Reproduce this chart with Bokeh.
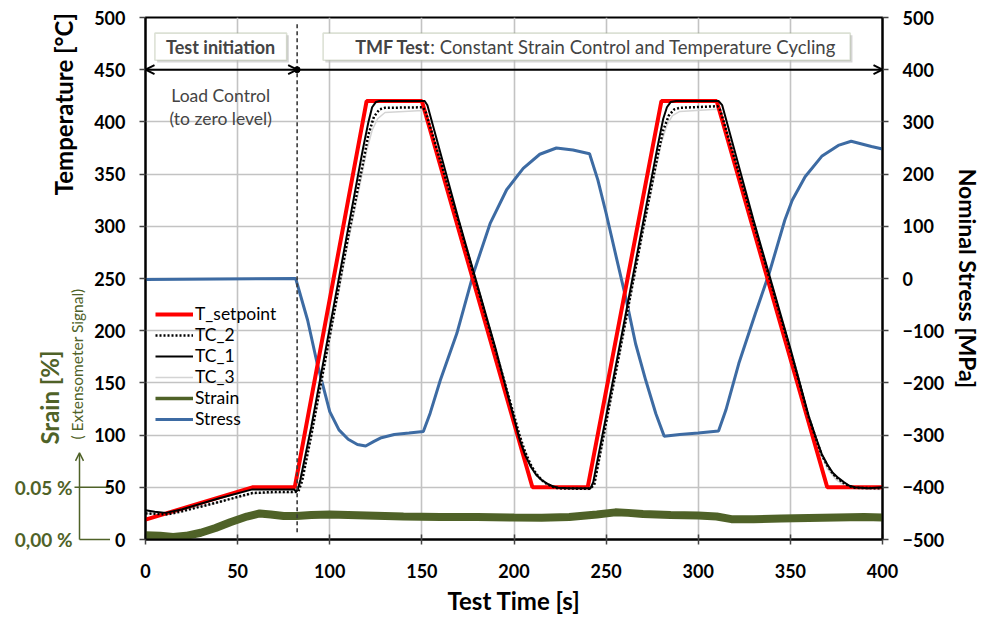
import math
from bokeh.plotting import figure
from bokeh.layouts import row
from bokeh.models import (Range1d, LinearAxis, FixedTicker, Legend, LegendItem,
                          Label, BoxAnnotation, Arrow, OpenHead, Plot)
from bokeh.core.properties import value
from bokeh.embed import file_html
from bokeh.resources import INLINE

# ---------------- data ----------------
sp_t = [0, 58, 81, 120, 150, 210, 240, 280, 310, 370, 400]
sp_T = [19, 50, 50, 420, 420, 50, 50, 420, 420, 50, 50]

tc1_t = [0, 5, 11, 20, 40, 58, 70, 80.5, 82, 83, 84, 90, 100, 110, 118, 121, 123, 125, 127,
         151.5, 153, 170, 190, 200, 203, 206, 209, 212, 215, 218, 221, 224, 230, 241.5,
         243, 250, 260, 270, 278, 281, 283, 285, 288, 311, 313, 330, 350, 360, 364, 367,
         370, 373, 376, 379, 382, 385, 392, 400]
tc1_T = [28, 26.5, 25.5, 29, 39.5, 48, 48, 48, 46, 50, 57, 108, 203, 298, 374, 400, 414, 419, 420,
         420, 416, 306, 183, 116, 96, 81, 70, 62, 57, 53.5, 51, 49.5, 49, 49,
         55, 118, 210, 303, 377, 403, 414, 419, 420, 420, 416, 306, 183, 118, 97, 82,
         72, 64, 59, 55, 51.5, 50, 49, 50]

tc2_t = [0, 12, 20, 40, 58, 70, 81, 83, 85, 90, 100, 110, 118, 121, 124, 127, 130, 150.5, 152,
         170, 190, 200, 203, 206, 209, 212, 215, 218, 221, 224, 241, 243.5, 250, 260, 270, 278,
         281, 284, 287, 290, 310.5, 312, 330, 350, 360, 364, 367, 370, 373, 376, 379, 382, 385, 400]
tc2_T = [25, 24, 27, 36, 44.5, 45.5, 45.5, 46, 56, 100, 195, 290, 360, 388, 405, 412, 413.5, 414, 410,
         304, 181, 119, 100, 84, 72, 63, 57, 53, 50.5, 49, 48.5, 52, 112, 204, 297, 368,
         392, 406, 412, 413.5, 415, 411, 303, 181, 117, 96, 81, 71, 63, 58, 54, 51, 49.5, 49]

tc3_t = [0, 12, 40, 58, 81, 84, 90, 100, 110, 117, 120, 123, 126, 130, 150.5, 153, 170, 190, 200,
         205, 210, 215, 220, 225, 241, 244, 250, 260, 270, 277, 280, 283, 286, 290, 310.5, 313,
         330, 350, 360, 365, 370, 375, 380, 385, 400]
tc3_T = [25, 24, 36, 44, 45, 52, 98, 192, 285, 345, 372, 392, 403, 409, 411, 405, 302, 180, 118,
         88, 68, 57, 51, 48.5, 48, 56, 110, 202, 295, 355, 380, 397, 406, 410, 412, 406,
         301, 179, 116, 88, 68, 57, 51, 48.5, 48]

strain_t = [0, 8, 15, 22, 30, 38, 46, 55, 62, 68, 75, 82, 90, 100, 120, 140, 160, 180, 200, 215,
            230, 245, 255, 262, 270, 285, 300, 310, 318, 330, 345, 360, 375, 390, 400]
strain_pct = [0.0041, 0.0035, 0.0025, 0.0035, 0.0065, 0.011, 0.0165, 0.022, 0.025, 0.024, 0.0225,
              0.0225, 0.0235, 0.024, 0.023, 0.022, 0.0215, 0.0215, 0.021, 0.0208,
              0.0215, 0.024, 0.026, 0.0255, 0.0245, 0.0235, 0.023, 0.022, 0.0195, 0.0195, 0.02,
              0.0205, 0.021, 0.0215, 0.021]

stress_t = [0, 40, 81.5, 88, 93, 100, 105, 110, 115, 119.5, 124, 128, 135, 143, 150.8, 154.5, 160,
            169, 178, 187, 196, 205, 214, 223, 232, 241, 245.5, 250, 255.5, 261, 266, 271.5, 277,
            281.5, 290, 300, 311, 315, 322, 331, 338.5, 347, 351, 358, 367, 376, 383, 394, 400]
stress_MPa = [-2, -1, 0, -80, -160, -255, -290, -308, -318, -321, -312, -305, -299, -296, -293, -258,
              -195, -105, 10, 105, 170, 211, 238, 250, 246, 239, 189, 125, 41, -42, -125, -195, -259,
              -302, -299, -296, -292, -252, -163, -67, 10, 112, 150, 195, 234, 255, 263, 253, 248]

x_ticks = list(range(0, 401, 50))
temp_ticks = list(range(0, 501, 50))
stress_ticks = list(range(-500, 501, 100))
strain_tick_vals = [0.0, 0.05]
strain_tick_text = ["0,00 %", "0.05 %"]

FONT = "Lato"
GREEN = "#4f6228"
BLUE = "#3d6ba3"

H = 619
TOP, BOTTOM = 17, 80
PX_PER_UNIT = (H - TOP - BOTTOM) / 500.0
SIDE_W = 110          # width of the left strip drawn by the side figure
OVERLAP = 19          # the strip slides under the main figure's transparent left border
MAIN_X0 = SIDE_W - OVERLAP
CAN_UNALIGN = "frame_align" in Plot.properties()

# ---------------- main figure ----------------
p = figure(width=985 - MAIN_X0, height=H, output_backend="svg", toolbar_location=None,
           x_range=Range1d(0, 400), y_range=Range1d(0, 500),
           min_border_left=144 - MAIN_X0, min_border_right=101,
           min_border_top=TOP, min_border_bottom=BOTTOM,
           background_fill_color="white")
p.border_fill_alpha = 0
if CAN_UNALIGN:
    p.frame_align = False
p.extra_y_ranges = {"stress": Range1d(-500, 500), "strain": Range1d(0, 0.5)}

p.outline_line_color = "black"
p.outline_line_width = 2

p.xgrid.ticker = FixedTicker(ticks=x_ticks)
p.ygrid.ticker = FixedTicker(ticks=temp_ticks)
for g in (p.xgrid, p.ygrid):
    g.grid_line_color = "#c3c3c3"
    g.grid_line_width = 1.6


def style_axis(ax):
    ax.axis_line_color = "black"
    ax.axis_line_width = 2
    ax.major_tick_line_color = "#444444"
    ax.major_tick_line_width = 1.5
    ax.minor_tick_line_color = None
    ax.major_label_text_font = FONT
    ax.major_label_text_font_style = "bold"
    ax.major_label_text_font_size = "18px"
    ax.major_label_text_color = "black"
    ax.axis_label_text_font = FONT
    ax.axis_label_text_font_style = "bold"
    ax.axis_label_text_font_size = "23px"
    ax.axis_label_text_color = "black"


xa = p.xaxis[0]
style_axis(xa)
xa.ticker = FixedTicker(ticks=x_ticks)
xa.major_tick_in = 5
xa.major_tick_out = 5
xa.major_label_standoff = 19
xa.axis_label = "Test Time [s]"
xa.axis_label_standoff = 5
xa.axis_label_text_font_size = "24px"

ya = p.yaxis[0]
style_axis(ya)
ya.ticker = FixedTicker(ticks=temp_ticks)
ya.major_tick_in = 0
ya.major_tick_out = 6
ya.major_label_standoff = 14

ra = LinearAxis(y_range_name="stress", ticker=FixedTicker(ticks=stress_ticks))
style_axis(ra)
ra.major_tick_in = 0
ra.major_tick_out = 6
ra.major_label_standoff = 14
ra.axis_label = "Nominal Stress [MPa]"
ra.axis_label_standoff = 7
p.add_layout(ra, "right")

# ---------------- series ----------------
p.line(strain_t, strain_pct, y_range_name="strain", line_color=GREEN, line_width=8)
r_strain = p.line(strain_t, strain_pct, y_range_name="strain", line_color=GREEN, line_width=3.5)
r_stress = p.line(stress_t, stress_MPa, y_range_name="stress", line_color=BLUE, line_width=3)
r_tc3 = p.line(tc3_t, tc3_T, line_color="#d4d4d4", line_width=1.5)
r_sp = p.line(sp_t, sp_T, line_color="#ff0000", line_width=4)
r_tc2 = p.line(tc2_t, tc2_T, line_color="black", line_width=2.5, line_dash="2 2")
r_tc1 = p.line(tc1_t, tc1_T, line_color="black", line_width=2)

legend = Legend(items=[
    LegendItem(label="T_setpoint", renderers=[r_sp]),
    LegendItem(label="TC_2", renderers=[r_tc2]),
    LegendItem(label="TC_1", renderers=[r_tc1]),
    LegendItem(label="TC_3", renderers=[r_tc3]),
    LegendItem(label="Strain", renderers=[r_strain]),
    LegendItem(label="Stress", renderers=[r_stress]),
], location=(10, 110))
legend.margin = 0
legend.padding = 4
legend.spacing = 0
legend.glyph_width = 38
legend.glyph_height = 20
legend.label_height = 20
legend.label_standoff = 2
legend.label_text_font = FONT
legend.label_text_font_size = "17.5px"
legend.label_text_color = "black"
legend.border_line_color = None
legend.background_fill_alpha = 0
p.add_layout(legend)

# ---------------- annotations ----------------
t_switch = 82.3
p.segment(x0=[t_switch], y0=[7], x1=[t_switch], y1=[495], line_color="#3a3a3a",
          line_width=1.6, line_dash="4 3")

p.add_layout(Arrow(x_start=0, y_start=450, x_end=t_switch, y_end=450,
                   start=OpenHead(size=9, line_width=2), end=OpenHead(size=9, line_width=2),
                   line_width=2, line_color="black"))
p.add_layout(Arrow(x_start=t_switch, y_start=450, x_end=400, y_end=450,
                   end=OpenHead(size=9, line_width=2), line_width=2, line_color="black"))
p.scatter([t_switch], [450], size=6, color="black")

for (l, r) in [(5.1, 76.6), (96.4, 382.5)]:
    p.add_layout(BoxAnnotation(left=l + 1.2, right=r + 1.2, bottom=457, top=483,
                               fill_color="#bdbdbd", fill_alpha=0.6, line_color=None))
    p.add_layout(BoxAnnotation(left=l, right=r, bottom=459, top=485, fill_color="white",
                               fill_alpha=1, line_color="#8a9a74", line_width=1.6))

p.add_layout(Label(x=40.8, y=472, text="Test initiation", text_font=FONT,
                   text_font_style="bold", text_font_size="18px", text_align="center",
                   text_baseline="middle"))
p.segment(x0=[10.2], y0=[462.5], x1=[71.4], y1=[462.5], line_color="black", line_width=1.3)

p.add_layout(Label(x=154.6, y=472, text="TMF Test", text_font=FONT, text_font_style="bold",
                   text_font_size="18px", text_align="right", text_baseline="middle"))
p.segment(x0=[115.3], y0=[462.5], x1=[154.3], y1=[462.5], line_color="black", line_width=1.3)
p.add_layout(Label(x=154.6, y=472, text=": Constant Strain Control and Temperature Cycling",
                   text_font=FONT, text_font_size="18.5px", text_align="left",
                   text_baseline="middle"))

p.add_layout(Label(x=40.8, y=425, text="Load Control", text_font=FONT, text_font_size="17.5px",
                   text_align="center", text_baseline="middle"))
p.add_layout(Label(x=40.8, y=403, text="(to zero level)", text_font=FONT,
                   text_font_size="17.5px", text_align="center", text_baseline="middle"))

# ---------------- left side panel (strain axis & temperature title) ----------------
if CAN_UNALIGN:
    s_top, s_bottom = 0, 0
    y_lo, y_hi = -BOTTOM / PX_PER_UNIT, 500 + TOP / PX_PER_UNIT
else:
    s_top, s_bottom = TOP, BOTTOM
    y_lo, y_hi = 0, 500

side = figure(width=SIDE_W, height=H, output_backend="svg", toolbar_location=None,
              x_range=Range1d(0, SIDE_W), y_range=Range1d(y_lo, y_hi),
              x_axis_location=None, y_axis_location=None,
              min_border_left=0, min_border_right=0,
              min_border_top=s_top, min_border_bottom=s_bottom,
              border_fill_color="white", background_fill_color="white")
if CAN_UNALIGN:
    side.frame_align = False
side.margin = (0, -OVERLAP, 0, 0)
side.extra_y_ranges = {"strain": Range1d(y_lo / 1000.0, y_hi / 1000.0)}
side.grid.visible = False
side.outline_line_color = None

side.text(x=[63], y=[417], text=["Temperature [°C]"], angle=math.pi / 2,
          text_font=value(FONT), text_font_style="bold", text_font_size="24px",
          text_align="center", text_baseline="middle", text_color="black")
side.text(x=[49], y=[136], text=["Srain [%]"], angle=math.pi / 2,
          text_font=value(FONT), text_font_style="bold", text_font_size="24px",
          text_align="center", text_baseline="middle", text_color=GREEN)
side.text(x=[76], y=[170], text=["( Extensometer  Signal)"], angle=math.pi / 2,
          text_font=value(FONT), text_font_size="15.5px",
          text_align="center", text_baseline="middle", text_color=GREEN)
side.add_layout(Arrow(x_start=79, y_start=0, x_end=79, y_end=83,
                      end=OpenHead(size=8, line_width=1.5, line_color=GREEN),
                      line_width=1.5, line_color=GREEN))
side.segment(x0=[79, 74], y0=[0, 50], x1=[SIDE_W, SIDE_W], y1=[0, 50],
             line_color=GREEN, line_width=1.5)
side.text(x=[72] * len(strain_tick_vals), y=strain_tick_vals, text=strain_tick_text,
          y_range_name="strain", text_font=value(FONT), text_font_style="bold",
          text_font_size="19px", text_align="right", text_baseline="middle",
          text_color=GREEN)

layout = row(side, p)
open("out.html", "w").write(file_html(layout, INLINE))
